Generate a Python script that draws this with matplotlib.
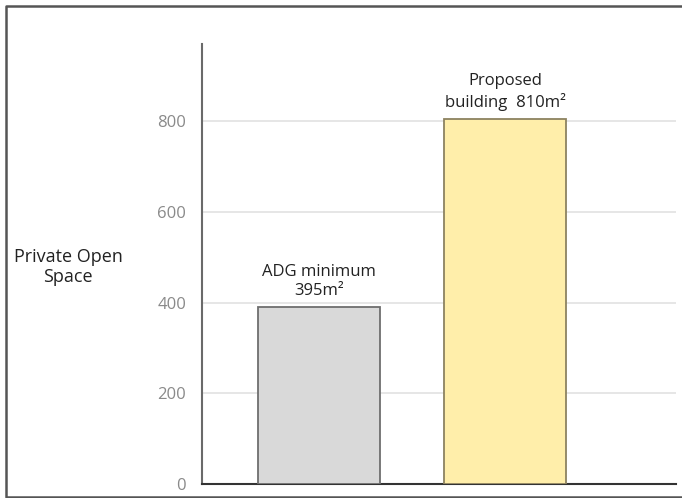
import matplotlib.pyplot as plt
from matplotlib.lines import Line2D

plt.rcParams['font.family'] = ['Open Sans', 'DejaVu Sans']

# data
categories = ['ADG minimum', 'Proposed building']
values = [390, 805]
bar_labels = ['ADG minimum\n395m²', 'Proposed\nbuilding  810m²']
colors = ['#d9d9d9', '#ffeeaa']
edges = ['#6e6e6e', '#8c8260']
yticks = [0, 200, 400, 600, 800]

fig = plt.figure(figsize=(6.82, 4.98), dpi=100)
ax = fig.add_axes([202 / 682, 1 - 484 / 498, 474 / 682, 440 / 498])

x = list(range(len(categories)))
ax.bar(x, values, width=0.656, color=colors, edgecolor=edges, linewidth=1.3, zorder=3)

for xi, v, lab in zip(x, values, bar_labels):
    ax.annotate(lab, (xi, v), xytext=(0, 6), textcoords='offset points',
                ha='center', va='bottom', fontsize=12, color='#222222',
                linespacing=1.25)

ax.set_xlim(-0.629, 1.919)
ax.set_ylim(0, 971)
ax.set_yticks(yticks)
ax.set_xticks([])
ax.yaxis.grid(True, color='#e2e2e2', linewidth=1.2, zorder=0)
ax.tick_params(axis='y', length=0, pad=11.5, labelsize=12, labelcolor='#8a8a8a')

for s in ['top', 'right']:
    ax.spines[s].set_visible(False)
ax.spines['left'].set_color('#6a6a6a')
ax.spines['left'].set_linewidth(1.5)
ax.spines['bottom'].set_color('#333333')
ax.spines['bottom'].set_linewidth(1.5)

fig.text(68 / 682, 1 - 267 / 498, 'Private Open\nSpace', ha='center', va='center',
         fontsize=13, color='#222222', linespacing=1.2)

# frame around the whole picture, open on the right
x0, y0, y1 = 6 / 682, 1.5 / 498, 1 - 6 / 498
fig.add_artist(Line2D([1, x0, x0, 1], [y1, y1, y0, y0], transform=fig.transFigure,
                      color='#555555', linewidth=1.8))

fig.savefig('out.png', dpi=100)
